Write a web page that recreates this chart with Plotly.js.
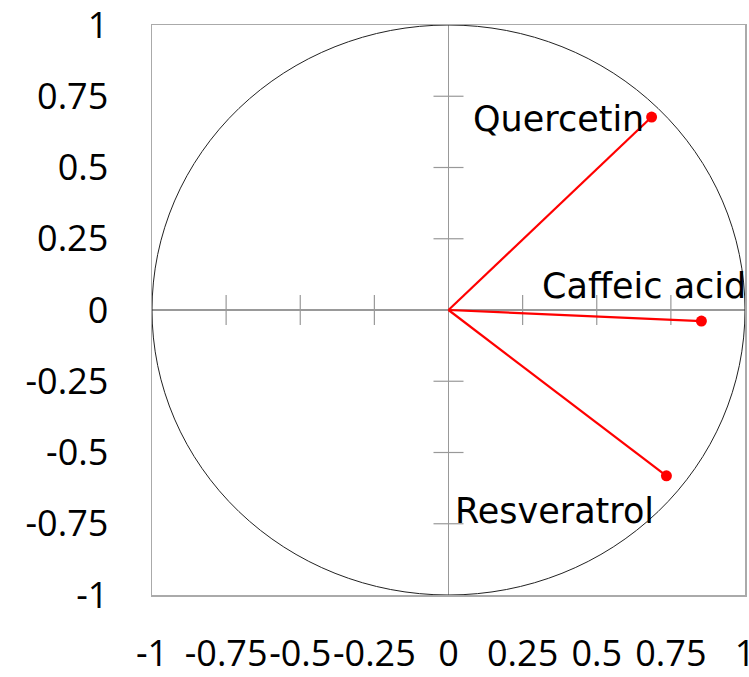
<!DOCTYPE html>
<html>
<head>
<meta charset="utf-8">
<script src="https://cdn.plot.ly/plotly-3.0.1.min.js"></script>
<style>html,body{margin:0;padding:0;background:#fff;}#chart{width:749px;height:677px;}</style>
</head>
<body>
<div id="chart"></div>
<script>
// Data
const variables = ['Quercetin', 'Caffeic acid', 'Resveratrol'];
const dim1 = [0.685, 0.853, 0.735];
const dim2 = [0.677, -0.039, -0.582];
const tickVals = [-1, -0.75, -0.5, -0.25, 0, 0.25, 0.5, 0.75, 1];
const tickText = ['-1', '-0.75', '-0.5', '-0.25', '0', '0.25', '0.5', '0.75', '1'];

// Styling / label placement (pixel offsets)
const labelOffsets = {
  'Quercetin':    {xs: -93,  ys: -2},
  'Caffeic acid': {xs: -57,  ys: 35},
  'Resveratrol':  {xs: -112, ys: -35}
};
const red = '#ff0000';

const traces = variables.map((v, i) => ({
  type: 'scatter',
  mode: 'lines+markers',
  x: [0, dim1[i]],
  y: [0, dim2[i]],
  line: {color: red, width: 2.2},
  marker: {color: red, size: [0, 11], opacity: 1, line: {width: 0}},
  hoverinfo: 'skip',
  showlegend: false
}));

const shapes = [{
  type: 'circle', xref: 'x', yref: 'y',
  x0: -1, x1: 1, y0: -1, y1: 1,
  line: {color: '#222', width: 1}, layer: 'above'
}];
tickVals.filter(t => Math.abs(t) > 0 && Math.abs(t) < 1).forEach(t => {
  shapes.push({type: 'line', xref: 'x', yref: 'y', ysizemode: 'pixel', yanchor: 0,
    x0: t, x1: t, y0: -15, y1: 15, line: {color: '#999', width: 1.2}, layer: 'below'});
  shapes.push({type: 'line', xref: 'x', yref: 'y', xsizemode: 'pixel', xanchor: 0,
    y0: t, y1: t, x0: -15, x1: 15, line: {color: '#999', width: 1.2}, layer: 'below'});
});

const annotations = variables.map((v, i) => ({
  x: dim1[i], y: dim2[i], xref: 'x', yref: 'y',
  text: v, showarrow: false,
  xanchor: 'center', yanchor: 'middle',
  xshift: labelOffsets[v].xs, yshift: labelOffsets[v].ys,
  font: {family: 'DejaVu Sans', size: 35, color: '#000'}
}));

const axisCommon = {
  range: [-1, 1],
  showgrid: false,
  zeroline: true, zerolinecolor: '#999', zerolinewidth: 1.5,
  showline: true, mirror: true, linecolor: '#aaa', linewidth: 1.5,
  tickmode: 'array', tickvals: tickVals, ticktext: tickText,
  ticks: '',
  tickangle: 0,
  ticklabeloverflow: 'allow',
  tickfont: {family: 'Open Sans', size: 36, color: '#000'},
  fixedrange: true,
  automargin: false
};

const layout = {
  width: 749, height: 677,
  margin: {l: 152, r: 4, t: 25, b: 82},
  paper_bgcolor: '#fff', plot_bgcolor: '#fff',
  xaxis: Object.assign({}, axisCommon, {ticklabelstandoff: 26}),
  yaxis: Object.assign({}, axisCommon, {ticklabelstandoff: 35}),
  shapes: shapes,
  annotations: annotations,
  showlegend: false
};

Plotly.newPlot('chart', traces, layout, {displayModeBar: false, staticPlot: true});
</script>
</body>
</html>
